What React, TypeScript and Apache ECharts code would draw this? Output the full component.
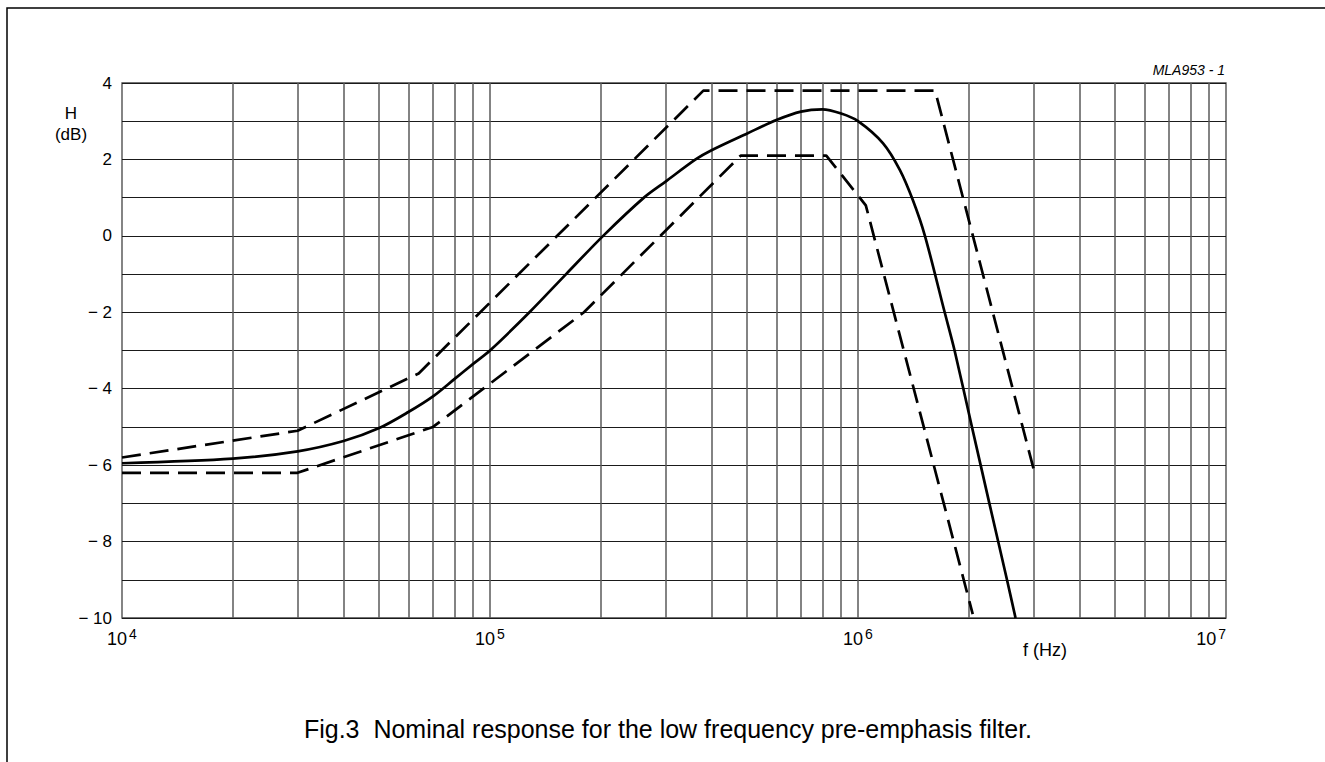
import React, { useEffect, useRef } from "react";
import * as echarts from "echarts";

// Nominal response (solid)
const nominalFreq = [1e4, 2e4, 3e4, 4e4, 5e4, 6e4, 7e4, 8e4, 9e4, 1e5, 1.28e5, 1.61e5, 2.03e5, 2.62e5, 3e5, 3.62e5, 4e5, 5e5, 6e5, 7e5, 8e5, 9e5, 1e6, 1.17e6, 1.3e6, 1.41e6, 1.52e6, 1.72e6, 1.83e6, 2.04e6, 2.275e6, 2.54e6, 2.68e6];
const nominalDb = [-5.95, -5.83, -5.64, -5.37, -5.03, -4.61, -4.2, -3.75, -3.35, -3.0, -2.0, -1.0, 0.0, 1.0, 1.42, 2.0, 2.24, 2.68, 3.03, 3.25, 3.31, 3.2, 3.0, 2.42, 1.72, 0.93, 0.0, -2.0, -3.0, -5.0, -7.0, -9.0, -10.0];

// Upper tolerance (dashed)
const upperFreq = [1e4, 3e4, 6.4e4, 3.8e5, 1.62e6, 3.0e6];
const upperDb = [-5.8, -5.1, -3.6, 3.8, 3.8, -6.1];

// Lower tolerance (dashed)
const lowerFreq = [1e4, 3e4, 7e4, 1.8e5, 4.8e5, 8.2e5, 1.05e6, 2.05e6];
const lowerDb = [-6.2, -6.2, -5.0, -2.0, 2.1, 2.1, 0.8, -9.9];

// Axis settings
const decades = [4, 5, 6];
const mantissas = [1, 2, 3, 4, 5, 6, 7, 8, 9];
const yMin = -10;
const yMax = 4;

const FONT = "'Liberation Sans', Arial, sans-serif";

const zip = (xs: number[], ys: number[]) => xs.map((x, i) => [x, ys[i]]);

export default function App() {
  const ref = useRef<HTMLDivElement>(null);

  useEffect(() => {
    if (!ref.current) return;
    const chart = echarts.init(ref.current, null, { renderer: "svg" });

    const vGrid: { xAxis: number }[] = [];
    decades.forEach((d) => {
      mantissas.forEach((m) => {
        const v = m * Math.pow(10, d);
        if (v > 1e4) vGrid.push({ xAxis: v });
      });
    });

    const option: any = {
      animation: false,
      backgroundColor: "#fff",
      grid: {
        left: 122,
        right: 99,
        top: 83,
        bottom: 144,
        show: true,
        borderColor: "#444",
        borderWidth: 1.3,
        backgroundColor: "transparent",
      },
      xAxis: {
        type: "log",
        logBase: 10,
        min: 1e4,
        max: 1e7,
        axisLine: { show: false },
        axisTick: { show: false },
        splitLine: { show: false },
        axisLabel: {
          margin: 9,
          alignMaxLabel: "right",
          color: "#000",
          formatter: (v: number) => `{b|10}{s|${Math.round(Math.log10(v))}}`,
          rich: {
            b: { fontSize: 18, lineHeight: 24, fontFamily: FONT, color: "#000" },
            s: { fontSize: 14, lineHeight: 14, verticalAlign: "top", fontFamily: FONT, color: "#000", padding: [0, 0, 0, 2] },
          },
        },
      },
      yAxis: {
        type: "value",
        min: yMin,
        max: yMax,
        interval: 1,
        axisLine: { show: false },
        axisTick: { show: false },
        splitLine: { show: true, lineStyle: { color: "#1a1a1a", width: 1 } },
        axisLabel: {
          margin: 10,
          fontSize: 17,
          fontFamily: FONT,
          color: "#000",
          formatter: (v: number) => {
            if (Math.abs(v % 2) === 1) return "";
            return v < 0 ? "\u2212 " + Math.abs(v) : String(v);
          },
        },
      },
      series: [
        {
          name: "grid",
          type: "line",
          data: [[1e4, yMin]],
          symbol: "none",
          lineStyle: { opacity: 0 },
          silent: true,
          z: 1,
          markLine: {
            silent: true,
            symbol: "none",
            label: { show: false },
            lineStyle: { color: "#5a5a5a", width: 1.5, type: "solid" },
            data: vGrid,
          },
        },
        {
          name: "upper",
          type: "line",
          data: zip(upperFreq, upperDb),
          symbol: "none",
          z: 5,
          lineStyle: { color: "#000", width: 2.7, type: [19, 9] },
        },
        {
          name: "lower",
          type: "line",
          data: zip(lowerFreq, lowerDb),
          symbol: "none",
          z: 5,
          lineStyle: { color: "#000", width: 2.7, type: [19, 9] },
        },
        {
          name: "nominal",
          type: "line",
          data: zip(nominalFreq, nominalDb),
          symbol: "none",
          smooth: 0.3,
          z: 6,
          lineStyle: { color: "#000", width: 2.7, type: "solid" },
        },
      ],
      graphic: [
        {
          type: "rect",
          shape: { x: 7, y: 8, width: 1340, height: 800 },
          style: { fill: "none", stroke: "#000", lineWidth: 1.5 },
          silent: true,
        },
        {
          type: "text",
          x: 71,
          y: 113,
          style: { text: "H", fontSize: 17, fontFamily: FONT, fill: "#000", align: "center", verticalAlign: "middle", textAlign: "center", textVerticalAlign: "middle" },
        },
        {
          type: "text",
          x: 71,
          y: 134,
          style: { text: "(dB)", fontSize: 17, fontFamily: FONT, fill: "#000", align: "center", verticalAlign: "middle", textAlign: "center", textVerticalAlign: "middle" },
        },
        {
          type: "text",
          x: 1225,
          y: 70,
          style: { text: "MLA953 - 1", fontSize: 14, fontStyle: "italic", fontFamily: FONT, fill: "#000", align: "right", verticalAlign: "middle", textAlign: "right", textVerticalAlign: "middle" },
        },
        {
          type: "text",
          x: 1045,
          y: 650,
          style: { text: "f (Hz)", fontSize: 18, fontFamily: FONT, fill: "#000", align: "center", verticalAlign: "middle", textAlign: "center", textVerticalAlign: "middle" },
        },
        {
          type: "text",
          x: 668,
          y: 729,
          style: { text: "Fig.3  Nominal response for the low frequency pre-emphasis filter.", fontSize: 25, fontFamily: FONT, fill: "#000", align: "center", verticalAlign: "middle", textAlign: "center", textVerticalAlign: "middle" },
        },
      ],
    };

    chart.setOption(option);
    return () => chart.dispose();
  }, []);

  return (
    <div
      ref={ref}
      style={{ position: "fixed", left: 0, top: 0, width: 1325, height: 762, background: "#fff" }}
    />
  );
}
